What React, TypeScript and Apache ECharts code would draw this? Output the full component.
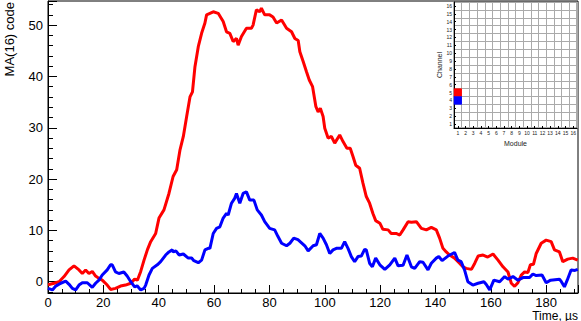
import React, { useEffect, useRef } from "react";
import * as echarts from "echarts";

const redTime = [0, 2.2, 4, 5.8, 7.6, 9.4, 11.2, 12.4, 13.6, 14.8, 16, 17.2, 18.4, 19.6, 21.4, 22.6, 24.4, 26.2, 28, 29.9, 31.3, 32.3, 33.5, 34.7, 35.9, 37.1, 38.9, 40.1, 41.9, 43.7, 45.2, 46.5, 47.7, 48.9, 50.1, 51.3, 52.2, 53.1, 54.3, 55.5, 56.7, 57.3, 59.7, 61.5, 63.3, 64.5, 65.7, 66.9, 68.1, 68.7, 69.9, 71.7, 73.5, 74.1, 75.3, 76.5, 77.1, 78.3, 80.1, 81.3, 82.6, 84.4, 86.2, 88, 89.2, 90.4, 91, 92.2, 93.4, 94.4, 95.6, 96.8, 97.6, 98.4, 99.4, 100, 101.2, 102.4, 103.6, 105.4, 106.6, 108, 109.2, 110.2, 111.2, 112.6, 113.8, 115, 116.2, 117.4, 118.4, 119.9, 121, 122.9, 124, 125.8, 127.1, 128.3, 130.1, 131.3, 133.1, 134.9, 136.7, 138.5, 140.3, 141.5, 142.7, 143.9, 145.1, 146.9, 148.7, 149.9, 151.1, 153, 154.2, 155.4, 157.2, 158.9, 160.8, 162.6, 164.4, 166.2, 167.4, 168.6, 169.8, 171, 172.2, 173.4, 174.3, 175.4, 176.4, 178.2, 180, 181.8, 183, 184.8, 186, 187.8, 189.6, 191.4];
const redValues = [-0.6, -0.3, 0, 1, 2.3, 3.1, 2.3, 1.6, 2.3, 1.6, 2, 1.1, 0.65, 0.3, -0.65, -1.5, -1.3, -0.85, -0.65, -0.3, 0.5, 0.3, 2, 4.2, 6.2, 7.8, 9.4, 12.4, 14, 17.2, 20.5, 21.8, 25.7, 28.3, 32.2, 36, 37, 41.9, 45.8, 48.4, 50.4, 52, 52.6, 52.3, 50.7, 48.7, 48.4, 46.8, 47.4, 46.1, 47.8, 49.4, 49.4, 50, 53, 52.6, 53.3, 52, 52, 51.6, 50.4, 51, 49.4, 48.7, 47.4, 47, 44.8, 42.9, 40.9, 39.3, 38, 34.1, 33.1, 33.8, 32.2, 29.9, 28, 28.3, 27, 28.6, 27.3, 26, 26, 24.4, 22.7, 22.1, 19.2, 16.6, 15.3, 13.3, 11.9, 11.4, 10.2, 10.1, 9.4, 9.4, 9.1, 10.1, 11.7, 11.6, 11.7, 10.4, 10.1, 10.6, 10.1, 8.5, 6.5, 5.8, 5.2, 4.6, 3.6, 2.9, 2.6, 2.4, 3.6, 5, 5.2, 4.8, 5.4, 4.2, 2.9, 1.9, -0.3, -0.9, -0.2, 1.3, 1.9, 1.8, 3.3, 3.4, 5.5, 7.5, 8.1, 7.8, 6.2, 5.8, 3.9, 4.4, 4.6, 4.2];

const blueTime = [0, 1.6, 2.8, 4.6, 6.4, 7.6, 8.8, 10, 11.2, 12.4, 14.2, 16, 17.2, 18.4, 19.6, 21.4, 22.6, 23.2, 24.4, 25.6, 27.4, 28.6, 29.9, 31.3, 32.2, 33.5, 34.7, 35.3, 36.5, 37.7, 39.5, 40.7, 42.5, 43.7, 44.9, 45.3, 46.2, 47.4, 48.9, 50.7, 51.9, 52.7, 54.3, 55.5, 56.7, 57.9, 58.5, 59.7, 60.9, 62.1, 63.3, 64.5, 65.1, 66.3, 67.5, 68.1, 69.3, 70.5, 71.7, 72.9, 74.4, 75.6, 77.1, 78.3, 80.1, 81.9, 83.1, 84.4, 86.2, 87.4, 88.8, 90.3, 92.8, 94, 95.8, 97, 98.2, 99.4, 100.6, 101.8, 103, 104.2, 106, 107.2, 108.4, 109.6, 110.8, 112, 113.2, 114.4, 115, 116.2, 117.2, 118.4, 119.9, 121.7, 123.5, 125.3, 126.5, 128.3, 129.7, 131.3, 132.5, 134.3, 135.5, 137.3, 138.5, 140.3, 141.2, 142.4, 144.5, 146.9, 148.1, 149.3, 150.5, 151.7, 153.5, 155.4, 157.5, 158.3, 159.6, 161.1, 163.2, 165, 166.2, 168, 169.8, 171.6, 174, 175.2, 176.4, 178.5, 180, 181.6, 184.8, 185.5, 186.6, 187.6, 189, 190.4, 191.4];
const blueValues = [-1.3, -1.6, -0.85, -0.3, 0.1, -0.5, -1.3, -1.6, -0.65, -0.2, -0.2, -1.1, -0.3, 0.3, 1.3, 2.3, 3.3, 3.3, 1.9, 1.6, 1.9, 1.1, 0, -1, -0.8, -1.6, -1.3, -0.65, 1.3, 2.6, 3.3, 3.9, 5.2, 5.8, 6.2, 5.8, 6, 5.2, 5.4, 4.6, 4.6, 4.1, 3.7, 4.2, 6.2, 6.5, 6.5, 9.4, 10.4, 10.7, 12.4, 13.3, 13, 15.3, 16.3, 17.2, 15.3, 17.2, 17.5, 15.9, 15.9, 14, 13, 11.7, 10.4, 10.1, 8.8, 7.5, 7, 7.5, 8.5, 8.2, 7, 6, 7, 7.2, 9.4, 8.5, 7.2, 5.5, 6.2, 6.5, 6.5, 7.8, 6.5, 4.9, 3.9, 4.9, 5, 6.3, 6.2, 3.6, 2.9, 4.6, 3.3, 2.4, 3.3, 4.6, 3.1, 3.2, 5.2, 2.9, 2.6, 3.9, 3.8, 2.3, 3.6, 4.6, 4.9, 4.1, 5, 5.7, 4.2, 3.9, 2.3, 0, -0.65, -0.3, 0, -0.5, -1.6, 0.3, 0, 1, 0.5, 1, 0.3, 0.8, 0.8, 1.5, 1.2, 1.3, -0.2, 0.3, 0.5, 0, -1, 0.3, 2.3, 2.2, 2.4];

const moduleLabels = ["1", "2", "3", "4", "5", "6", "7", "8", "9", "10", "11", "12", "13", "14", "15", "16"];
const channelLabels = ["1", "2", "3", "4", "5", "6", "7", "8", "9", "10", "11", "12", "13", "14", "15", "16"];
const hitModules = [1, 1];
const hitChannels = [5, 4];
const hitIds = [1, 2];
const hitColors = ["#ff0000", "#0000ff"];

const FONT = "'Liberation Sans', Arial, Helvetica, sans-serif";

export default function App() {
  const ref = useRef<HTMLDivElement>(null);
  useEffect(() => {
    if (!ref.current) return;
    const chart = echarts.init(ref.current, undefined, { renderer: "svg" });
    const redData = redTime.map((t, i) => [t, redValues[i]]);
    const blueData = blueTime.map((t, i) => [t, blueValues[i]]);
    const hits = hitModules.map((m, i) => [m - 1, hitChannels[i] - 1, hitIds[i]]);
    chart.setOption({
      animation: false,
      backgroundColor: "#ffffff",
      textStyle: { fontFamily: FONT },
      grid: [
        { left: 48, top: 1, right: 3, bottom: 28, show: true, borderColor: "#000", borderWidth: 1, backgroundColor: "transparent" },
        { left: 454, top: 2, width: 123, height: 126, show: true, borderColor: "#555", borderWidth: 1, backgroundColor: "#fff" },
      ],
      visualMap: {
        type: "piecewise",
        show: false,
        seriesIndex: 2,
        dimension: 2,
        pieces: hitIds.map((id, i) => ({ value: id, color: hitColors[i] })),
      },
      xAxis: [
        {
          type: "value",
          gridIndex: 0,
          min: 0,
          max: 191.5,
          interval: 20,
          axisLine: { show: true, onZero: false, lineStyle: { color: "#000", width: 1 } },
          axisTick: { show: true, inside: true, length: 8, lineStyle: { color: "#000" } },
          minorTick: { show: true, splitNumber: 4, length: 4, lineStyle: { color: "#000" } },
          splitLine: { show: false },
          axisLabel: { color: "#000", fontSize: 13, fontFamily: FONT, margin: 3, showMaxLabel: false },
        },
        {
          type: "category",
          gridIndex: 1,
          data: moduleLabels,
          position: "bottom",
          axisLine: { show: true, onZero: false, lineStyle: { color: "#000", width: 1 } },
          axisTick: { show: true, inside: true, length: 2, alignWithLabel: true, lineStyle: { color: "#000" } },
          splitLine: { show: true, lineStyle: { color: "#aaa", width: 1 } },
          axisLabel: { color: "#222", fontSize: 5, margin: 2, interval: 0, fontFamily: FONT },
          name: "Module",
          nameLocation: "middle",
          nameGap: 12,
          nameTextStyle: { fontSize: 7, color: "#222", fontFamily: FONT },
        },
      ],
      yAxis: [
        {
          type: "value",
          gridIndex: 0,
          min: -2.2,
          max: 54.7,
          axisLine: { show: true, onZero: false, lineStyle: { color: "#000", width: 1 } },
          axisTick: { show: true, inside: true, length: 9, lineStyle: { color: "#000" } },
          minorTick: { show: true, splitNumber: 5, length: 5, lineStyle: { color: "#000" } },
          splitLine: { show: false },
          axisLabel: { color: "#000", fontSize: 13, fontFamily: FONT, margin: 5, showMinLabel: false, showMaxLabel: false },
        },
        {
          type: "category",
          gridIndex: 1,
          data: channelLabels,
          axisLine: { show: true, onZero: false, lineStyle: { color: "#000", width: 1 } },
          axisTick: { show: true, inside: true, length: 2, alignWithLabel: true, lineStyle: { color: "#000" } },
          splitLine: { show: true, lineStyle: { color: "#aaa", width: 1 } },
          axisLabel: { color: "#222", fontSize: 5, margin: 2, interval: 0, fontFamily: FONT },
          name: "Channel",
          nameLocation: "middle",
          nameGap: 10,
          nameRotate: 90,
          nameTextStyle: { fontSize: 7, color: "#222", fontFamily: FONT },
        },
      ],
      series: [
        {
          type: "line",
          xAxisIndex: 0,
          yAxisIndex: 0,
          data: redData,
          showSymbol: false,
          lineStyle: { color: "#ff0000", width: 3 },
          itemStyle: { color: "#ff0000" },
          z: 2,
        },
        {
          type: "line",
          xAxisIndex: 0,
          yAxisIndex: 0,
          data: blueData,
          showSymbol: false,
          lineStyle: { color: "#0000ff", width: 3 },
          itemStyle: { color: "#0000ff" },
          z: 3,
        },
        {
          type: "heatmap",
          xAxisIndex: 1,
          yAxisIndex: 1,
          data: hits,
          z: 5,
        },
      ],
      graphic: [
        {
          type: "text",
          x: 9,
          y: 2,
          rotation: Math.PI / 2,
          style: { text: "MA(16) code", fontSize: 13, fontFamily: FONT, fill: "#000", align: "right", verticalAlign: "middle" },
        },
        {
          type: "text",
          x: 578,
          y: 315.5,
          style: { text: "Time, µs", fontSize: 12, fontFamily: FONT, fill: "#000", align: "right", verticalAlign: "middle" },
        },
      ],
    });
    return () => chart.dispose();
  }, []);
  return <div ref={ref} style={{ width: 581, height: 321, position: "absolute", left: 0, top: 0 }} />;
}
